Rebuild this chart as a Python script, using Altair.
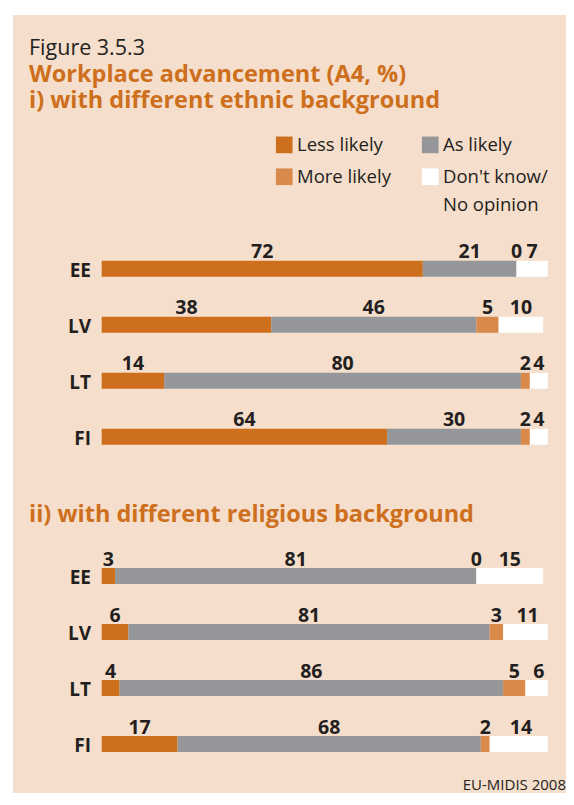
import altair as alt
import pandas as pd

FONT = "Open Sans"
PEACH = "#F5DECB"
ORANGE = "#CD6F1C"
DARK = "#231F20"

countries = ["EE", "LV", "LT", "FI"]
categories = ["Less likely", "As likely", "More likely", "Don't know/No opinion"]
colors = ["#CD6F1C", "#959699", "#D98A4B", "#FFFFFF"]

ethnic_less = [72, 38, 14, 64]
ethnic_as = [21, 46, 80, 30]
ethnic_more = [0, 5, 2, 2]
ethnic_dk = [7, 10, 4, 4]

religious_less = [3, 6, 4, 17]
religious_as = [81, 81, 86, 68]
religious_more = [0, 3, 5, 2]
religious_dk = [15, 11, 6, 14]


def long_df(less, as_, more, dk):
    rows = []
    for i, c in enumerate(countries):
        for k, (cat, vals) in enumerate(zip(categories, [less, as_, more, dk])):
            rows.append({"country": c, "category": cat, "order": k, "value": vals[i]})
    return pd.DataFrame(rows)


ethnic_df = long_df(ethnic_less, ethnic_as, ethnic_more, ethnic_dk)
religious_df = long_df(religious_less, religious_as, religious_more, religious_dk)

xscale = alt.Scale(domain=[0, 100], range=[93.7, 539.7], clamp=True, nice=False)

legend = alt.Legend(
    title=None, orient="none", legendX=267, legendY=127.5, columns=2, direction="horizontal",
    symbolType="square", symbolSize=278, symbolStrokeWidth=0, symbolOpacity=1,
    labelFont=FONT, labelFontSize=18.5, labelColor=DARK, labelOffset=3.5,
    columnPadding=30, rowPadding=13, labelLimit=300, padding=0,
    labelExpr="test(/\\//, datum.label) ? [substring(datum.label, 0, 11), substring(datum.label, 11)] : datum.label",
)


def section(df, y_range):
    base = alt.Chart(df).transform_stack(
        stack="value", groupby=["country"], sort=[alt.SortField("order")], as_=["x0", "x1"]
    ).transform_calculate(mid="(datum.x0 + datum.x1) / 2")
    yenc = alt.Y("country:N", axis=None,
                 scale=alt.Scale(domain=countries, range=y_range, paddingInner=0, paddingOuter=0))
    bars = base.mark_bar(height=16, strokeWidth=0).encode(
        x=alt.X("x0:Q", scale=xscale, axis=None),
        x2="x1:Q",
        y=yenc,
        color=alt.Color("category:N", scale=alt.Scale(domain=categories, range=colors), legend=legend),
        order=alt.Order("order:Q"),
    )
    labels = base.mark_text(font=FONT, fontSize=19.5, fontWeight="bold", color=DARK,
                            baseline="alphabetic", dy=-10.5).encode(
        x=alt.X("mid:Q", scale=xscale, axis=None), y=yenc, text="value:Q")
    names = alt.Chart(pd.DataFrame({"country": countries})).mark_text(
        font=FONT, fontSize=19, fontWeight="bold", color=DARK, align="right",
        baseline="alphabetic", dy=8).encode(x=alt.value(83), y=yenc, text="country:N")
    return alt.layer(bars, labels, names)


one = pd.DataFrame({"t": [0]})


def txt(s, x, y, size, weight="normal", color=DARK, align="left"):
    return alt.Chart(one).mark_text(font=FONT, fontSize=size, fontWeight=weight, color=color,
                                    align=align, baseline="alphabetic").encode(
        x=alt.value(x), y=alt.value(y), text=alt.value(s))


bg = alt.Chart(one).mark_rect(color=PEACH).encode(
    x=alt.value(5), x2=alt.value(558), y=alt.value(7), y2=alt.value(785))

chart = alt.layer(
    bg,
    txt("Figure 3.5.3", 21, 46.5, 21.5),
    txt("Workplace advancement (A4, %)", 21, 74, 23.5, "bold", ORANGE),
    txt("i) with different ethnic background", 21, 99.5, 23.5, "bold", ORANGE),
    section(ethnic_df, [232.8, 456.8]),
    txt("ii) with different religious background", 21, 513.7, 23.5, "bold", ORANGE),
    section(religious_df, [540, 764]),
    txt("EU-MIDIS 2008", 558, 782, 15, align="right"),
).resolve_scale(y="independent").properties(
    width=558, height=785, autosize=alt.AutoSizeParams(type="none"), padding=0
).configure(background="white", style={"guide-label": {"lineHeight": 28.5}}).configure_view(stroke=None)

chart.save("out.html", embed_options={"renderer": "svg", "actions": False})
